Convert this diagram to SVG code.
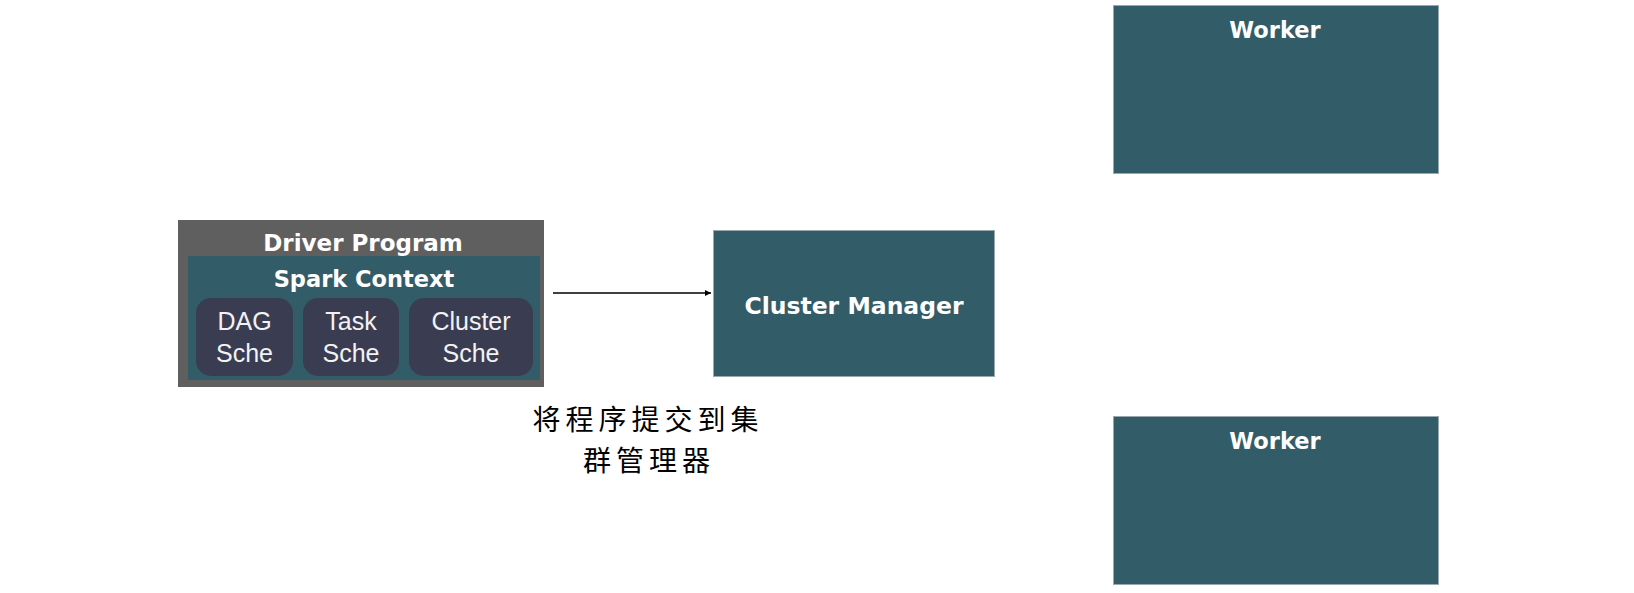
<svg xmlns="http://www.w3.org/2000/svg" width="1634" height="593" viewBox="0 0 1634 593">
<style>
.teal{fill:#335c69;}
.box{fill:#335c69;stroke:#9aa9ae;stroke-width:1;}
.title{font-family:"DejaVu Sans","Liberation Sans",sans-serif;font-weight:bold;fill:#ffffff;text-anchor:middle;}
.sub{font-family:"Liberation Sans",Arial,sans-serif;fill:#f2f2f2;text-anchor:middle;font-size:25px;}
.sched{fill:#3a3d52;}
.cn{font-family:"Noto Sans CJK SC",sans-serif;fill:#000000;text-anchor:middle;font-size:28px;letter-spacing:5px;}
</style>
<defs>
<marker id="arr" viewBox="0 0 10 10" refX="10" refY="5" markerWidth="7" markerHeight="6" markerUnits="userSpaceOnUse" orient="auto">
<path d="M0,0 L10,5 L0,10 Z" fill="#000"/>
</marker>
</defs>
<rect width="1634" height="593" fill="#ffffff"/>
<g id="driver">
<rect x="178" y="220" width="366" height="167" fill="#5f5f5f"/>
<text class="title" x="363" y="251" font-size="23">Driver Program</text>
<rect class="teal" x="188" y="256" width="352" height="124"/>
<text class="title" x="364" y="287" font-size="22.5">Spark Context</text>
<g id="dag">
<rect class="sched" x="196" y="298" width="97" height="78" rx="15"/>
<text class="sub" x="244.5" y="330">DAG</text>
<text class="sub" x="244.5" y="362">Sche</text>
</g>
<g id="task">
<rect class="sched" x="303" y="298" width="96" height="78" rx="15"/>
<text class="sub" x="351" y="330">Task</text>
<text class="sub" x="351" y="362">Sche</text>
</g>
<g id="clustersche">
<rect class="sched" x="409" y="298" width="124" height="78" rx="15"/>
<text class="sub" x="471" y="330">Cluster</text>
<text class="sub" x="471" y="362">Sche</text>
</g>
</g>
<g id="clustermanager">
<rect class="box" x="713.5" y="230.5" width="281" height="146"/>
<text class="title" x="854" y="314" font-size="23.5">Cluster Manager</text>
</g>
<g id="worker1">
<rect class="box" x="1113.5" y="5.5" width="325" height="168"/>
<text class="title" x="1275" y="38" font-size="22.5">Worker</text>
</g>
<g id="worker2">
<rect class="box" x="1113.5" y="416.5" width="325" height="168"/>
<text class="title" x="1275" y="449" font-size="22.5">Worker</text>
</g>
<g id="connectors">
<line x1="553" y1="293" x2="711" y2="293" stroke="#000" stroke-width="1.5" marker-end="url(#arr)"/>
<text class="cn"><tspan x="648" y="430">将程序提交到集</tspan><tspan x="649" y="471">群管理器</tspan></text>
</g>
</svg>
